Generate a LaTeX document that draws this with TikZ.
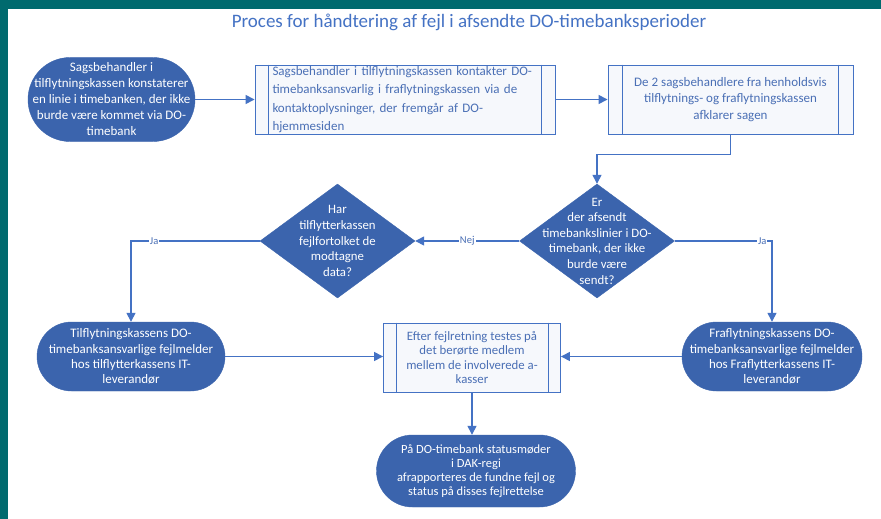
\documentclass[tikz,border=0pt]{standalone}
\usepackage{fontspec}
\setmainfont{Carlito}
\usetikzlibrary{arrows.meta,shapes.geometric}
\definecolor{teal0}{HTML}{006A6E}
\definecolor{fillblue}{HTML}{3B64AD}
\definecolor{lineblue}{HTML}{4472C4}
\definecolor{textblue}{HTML}{4A6FB5}
\definecolor{boxfill}{HTML}{F6F8FC}
\begin{document}
\begin{tikzpicture}[x=1pt,y=-1pt,
  term/.style 2 args={draw=fillblue, fill=fillblue, text=white, align=center,
    font=\fontsize{13}{16}\selectfont, inner sep=0pt,
    minimum width=#1, minimum height=#2, rounded corners=#2/2},
  proc/.style 2 args={draw=lineblue, line width=0.9pt, fill=boxfill, text=textblue,
    font=\fontsize{13}{16}\selectfont, inner sep=0pt,
    minimum width=#1, minimum height=#2},
  dia/.style={diamond, draw=fillblue, fill=fillblue, inner sep=0pt, aspect=1.36,
    minimum width=155pt, minimum height=114pt},
  dtext/.style={text=white, align=center, font=\fontsize{12.8}{15.6}\selectfont, inner sep=0pt},
  conn/.style={draw=lineblue, line width=1.4pt, -{Triangle[width=9pt,length=9pt]}},
  lbl/.style={fill=white, text=textblue, font=\fontsize{10.5}{12}\selectfont, inner sep=1pt},
  sideline/.style={draw=lineblue, line width=0.9pt}
]
\useasboundingbox (0,0) rectangle (881,519);
\fill[white] (0,0) rectangle (881,519);
\fill[teal0] (0,0) rectangle (881,9);
\fill[teal0] (0,0) rectangle (8,519);

\node[text=lineblue, font=\fontsize{19}{22}\selectfont] (title) at (469,22)
  {Proces for håndtering af fejl i afsendte DO-timebanksperioder};

\node[term={167pt}{84pt}] (A) at (111.5,99.5)
  {Sagsbehandler i\\tilflytningskassen konstaterer\\en linie i timebanken, der ikke\\burde være kommet via DO-\\timebank};

\node[proc={300pt}{69pt}, text width=265pt, align=left, font=\fontsize{13}{18.5}\selectfont] (B) at (405,99.5)
  {Sagsbehandler i tilflytningskassen kontakter DO-\\timebanksansvarlig i fraflytningskassen via de\\kontaktoplysninger, der fremgår af DO-\\hjemmesiden};

\node[proc={245pt}{69pt}, align=center, font=\fontsize{13}{16.5}\selectfont] (C) at (730.5,99.5)
  {De 2 sagsbehandlere fra henholdsvis\\tilflytnings- og fraflytningskassen\\afklarer sagen};

\node[dia] (D1) at (597,241) {};
\node[dtext] (D1t) at (D1.center)
  {Er\\der afsendt\\timebankslinier i DO-\\timebank, der ikke\\burde være\\sendt?};

\node[dia] (D2) at (337.5,241) {};
\node[dtext] (D2t) at (D2.center)
  {Har\\tilflytterkassen\\fejlfortolket de\\modtagne\\data?};

\node[term={188pt}{69pt}, font=\fontsize{13}{15.3}\selectfont] (E) at (131,356.5)
  {Tilflytningskassens DO-\\timebanksansvarlige fejlmelder\\hos tilflytterkassens IT-\\leverandør};

\node[term={180pt}{69pt}, font=\fontsize{13}{15.3}\selectfont] (F) at (772,356.5)
  {Fraflytningskassens DO-\\timebanksansvarlige fejlmelder\\hos Fraflytterkassens IT-\\leverandør};

\node[proc={177pt}{69pt}, align=center, font=\fontsize{12.8}{14.5}\selectfont] (G) at (472,357.5)
  {Efter fejlretning testes på\\det berørte medlem\\mellem de involverede a-\\kasser};

\node[term={199pt}{72pt}, font=\fontsize{12.5}{14}\selectfont] (H) at (476,471)
  {På DO-timebank statusmøder\\i DAK-regi\\afrapporteres de fundne fejl og\\status på disses fejlrettelse};

% double side lines of process boxes
\draw[sideline] ([xshift=14pt]B.north west) -- ([xshift=14pt]B.south west);
\draw[sideline] ([xshift=-14pt]B.north east) -- ([xshift=-14pt]B.south east);
\draw[sideline] ([xshift=15pt]C.north west) -- ([xshift=15pt]C.south west);
\draw[sideline] ([xshift=-15pt]C.north east) -- ([xshift=-15pt]C.south east);
\draw[sideline] ([xshift=13pt]G.north west) -- ([xshift=13pt]G.south west);
\draw[sideline] ([xshift=-13pt]G.north east) -- ([xshift=-13pt]G.south east);

% connectors
\draw[conn] (A.east) -- (B.west);
\draw[conn] (B.east) -- (C.west);
\draw[conn] (C.south) -- ++(0,20) -| (D1.north);
\draw[conn] (D1.west) -- node[lbl] {Nej} (D2.east);
\draw[conn] (D2.west) -| node[lbl, pos=0.41] {Ja} (E.north);
\draw[conn] (D1.east) -| node[lbl, pos=0.45] {Ja} (F.north);
\draw[conn] (E.east) -- (E.east -| G.west);
\draw[conn] (F.west) -- (F.west -| G.east);
\draw[conn] (G.south) -- (G.south |- H.north);
\end{tikzpicture}
\end{document}
